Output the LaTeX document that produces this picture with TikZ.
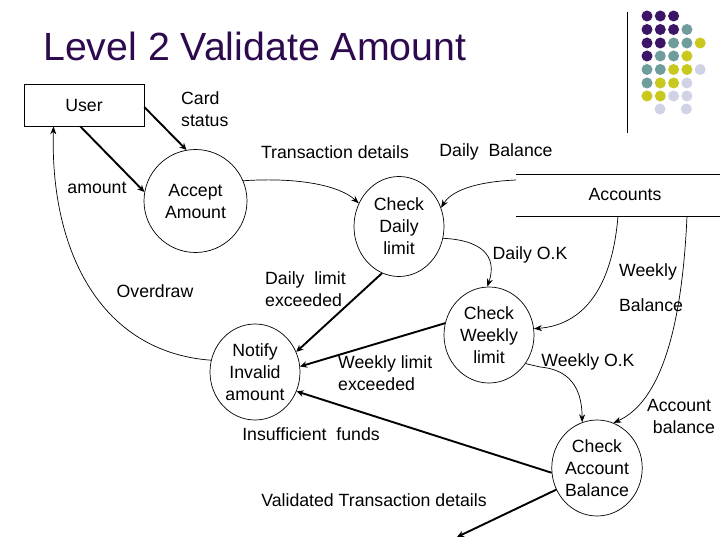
\documentclass[tikz,border=0pt]{standalone}
\usepackage{fontspec}
\setmainfont{Liberation Sans}
\usetikzlibrary{arrows.meta,shapes.geometric}
\definecolor{ttl}{HTML}{2D0A4E}
\definecolor{dpurple}{HTML}{3D1566}
\definecolor{dteal}{HTML}{6F9C9C}
\definecolor{dyellow}{HTML}{C8C81E}
\definecolor{dlav}{HTML}{D2D2E6}
\tikzset{
  lbl/.style={font=\fontsize{17.7}{22}\selectfont, inner sep=0pt, align=center},
  proc/.style={ellipse, draw, line width=0.7pt, minimum width=90pt, minimum height=96pt, inner sep=0pt, font=\fontsize{17.7}{22}\selectfont, align=center},
  thinflow/.style={line width=0.7pt, -{Stealth[length=8pt,width=6pt]}},
  thickflow/.style={line width=1.9pt, -{Stealth[length=7pt,width=6.5pt]}},
  dotc/.style={circle, fill=#1, draw=none, minimum size=11pt, inner sep=0pt}
}
\begin{document}
\begin{tikzpicture}[x=1pt,y=-1pt]
\useasboundingbox (0,0) rectangle (720,540);
\fill[white] (0,0) rectangle (720,540);

% title
\node[font=\fontsize{39.3}{44}\selectfont, text=ttl, anchor=west, inner sep=0pt] (title) at (43,46) {Level 2 Validate Amount};

% decoration
\draw[line width=1pt] (627,12) -- (627,133);
\foreach \c [count=\i] in {dpurple,dpurple,dpurple}{\node[dotc=\c] (r1d\i) at ({633.7+13.3*\i},16) {};}
\foreach \c [count=\i] in {dpurple,dpurple,dpurple,dteal}{\node[dotc=\c] (r2d\i) at ({633.7+13.3*\i},29.5) {};}
\foreach \c [count=\i] in {dpurple,dpurple,dteal,dteal,dyellow}{\node[dotc=\c] (r3d\i) at ({633.7+13.3*\i},43) {};}
\foreach \c [count=\i] in {dpurple,dteal,dteal,dyellow}{\node[dotc=\c] (r4d\i) at ({633.7+13.3*\i},56) {};}
\foreach \c [count=\i] in {dteal,dteal,dyellow,dyellow,dlav}{\node[dotc=\c] (r5d\i) at ({633.7+13.3*\i},69.5) {};}
\foreach \c [count=\i] in {dteal,dyellow,dyellow,dlav}{\node[dotc=\c] (r6d\i) at ({633.7+13.3*\i},83) {};}
\foreach \c [count=\i] in {dyellow,dyellow,dlav,dlav}{\node[dotc=\c] (r7d\i) at ({633.7+13.3*\i},96) {};}
\node[dotc=dlav] (r8d2) at (660,109) {};
\node[dotc=dlav] (r8d4) at (686.3,109) {};

% external entity
\node[draw, line width=0.7pt, minimum width=120pt, minimum height=42pt, inner sep=0pt, font=\fontsize{17.7}{22}\selectfont] (user) at (84,105) {User};

% data store
\draw[line width=0.8pt] (516,174) -- (720,174);
\draw[line width=0.8pt] (516,216) -- (720,216);
\node[lbl] (accounts) at (625,194) {Accounts};
\coordinate (accA) at (516,180);
\coordinate (accB) at (618,216);
\coordinate (accC) at (687,216);

% processes
\node[circle, draw, line width=0.7pt, minimum size=103pt, inner sep=0pt, font=\fontsize{17.7}{22}\selectfont, align=center] (accept) at (195.5,201) {Accept\\Amount};
\node[proc, minimum height=100pt] (daily) at (399,226.5) {Check\\Daily\\limit};
\node[proc] (notify) at (255,372) {Notify\\Invalid\\amount};
\node[proc] (weekly) at (489,335) {Check\\Weekly\\limit};
\node[proc] (accbal) at (597,468) {Check\\Account\\Balance};
\coordinate (outv) at (457,537);

% flows
\draw[thickflow] (user.-2) -- (accept.100);
\draw[thickflow] (user.-100) -- (accept.170);
\draw[thinflow] (notify.165) .. controls (100,352) and (50,250) .. (user.-145);
\draw[thinflow] (accept.23) .. controls (300,177) and (340,186) .. (daily.150);
\draw[thinflow] (accA) .. controls (470,182) and (450,193) .. (daily.24);
\draw[thinflow] (daily.-15) .. controls (480,240) and (498,255) .. (weekly.92);
\draw[thinflow] (accB) .. controls (612,290) and (582,325) .. (weekly.8);
\draw[thinflow] (accC) .. controls (682,330) and (660,402) .. (accbal.70);
\draw[thinflow] (weekly.-38) -- (540,367) .. controls (575,370) and (582,395) .. (accbal.108);
\draw[thickflow] (daily.-110) -- (notify.26);
\draw[thickflow] (weekly.165) -- (notify.7);
\draw[thickflow] (accbal.186) -- (notify.-25);
\draw[thickflow] (accbal.-152) -- (outv);

% labels
\node[lbl, align=left, anchor=west] (lcard) at (181,109) {Card\\status};
\node[lbl] (lamount) at (97,188) {amount};
\node[lbl] (ltrans) at (335,152) {Transaction details};
\node[lbl] (ldbal) at (496,152) {Daily\ \ Balance};
\node[lbl] (ldok) at (530,255) {Daily O.K};
\node[lbl] (lweekly) at (648,272) {Weekly};
\node[lbl] (lbalance) at (651,305) {Balance};
\node[lbl] (lover) at (155,291) {Overdraw};
\node[lbl, align=left, anchor=west] (ldle) at (265,289) {Daily\ \ limit\\exceeded};
\node[lbl, align=left, anchor=west] (lwle) at (338,373) {Weekly limit\\exceeded};
\node[lbl] (lwok) at (588,362) {Weekly O.K};
\node[lbl] (lab) at (679,416) {Account\\\ \ balance};
\node[lbl] (linsuf) at (311,434) {Insufficient\ \ funds};
\node[lbl] (lvalid) at (374,500) {Validated Transaction details};
\end{tikzpicture}
\end{document}
